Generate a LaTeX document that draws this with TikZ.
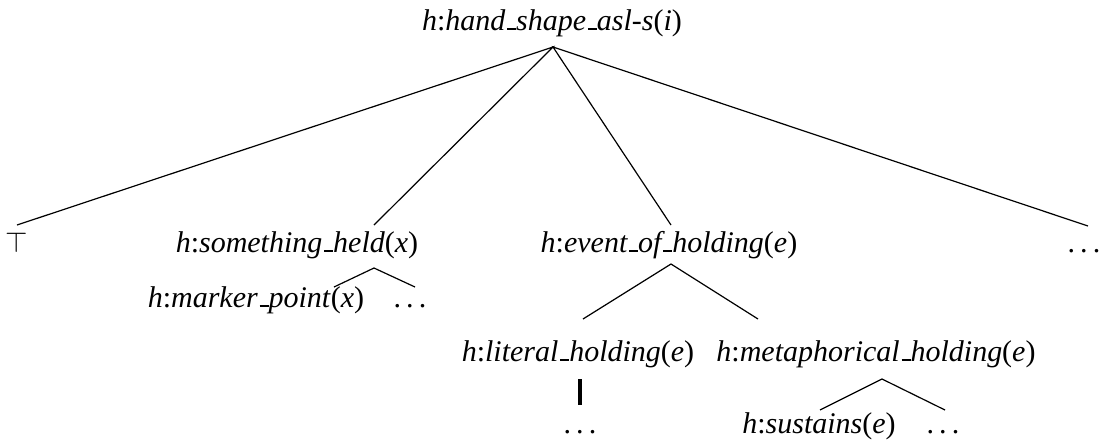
\documentclass[tikz,border=0pt]{standalone}
\usepackage{fontspec}
\setmainfont{Liberation Serif}
\newcommand{\usc}{\kern.06em\vbox{\hrule width .3em height 1.1pt}}
\newcommand{\dd}{.\kern.17em.\kern.17em.}
\newcommand{\lab}[2]{\textit{h}:\textit{#1}(\textit{#2})}
\begin{document}
\begin{tikzpicture}[x=0.5pt,y=-0.5pt,
  lbl/.style={anchor=base,inner sep=0pt,font=\fontsize{15}{17}\selectfont},
  edge/.style={line width=0.6pt}]
\useasboundingbox (0,0) rectangle (1099,441);
% nodes
\node[lbl] (root) at (552,30) {\lab{hand\usc shape\usc asl-s}{i}};
\node[lbl] (top) at (17,252) {$\top$};
\node[lbl] (sh) at (297,252) {\lab{something\usc held}{x}};
\node[lbl] (eh) at (669,252) {\lab{event\usc of\usc holding}{e}};
\node[lbl] (d1) at (1084,252) {\dd};
\node[lbl] (mp) at (256,307) {\lab{marker\usc point}{x}};
\node[lbl] (d2) at (410,307) {\dd};
\node[lbl] (lh) at (578,361) {\lab{literal\usc holding}{e}};
\node[lbl] (mh) at (876,361) {\lab{metaphorical\usc holding}{e}};
\node[lbl] (d3) at (580,433) {\dd};
\node[lbl] (su) at (819,433) {\lab{sustains}{e}};
\node[lbl] (d4) at (943,433) {\dd};
% connector points
\coordinate (r0) at (553,47);
\coordinate (top-in) at (17,225);
\coordinate (sh-in) at (374,225);
\coordinate (eh-in) at (671,225);
\coordinate (d1-in) at (1088,226);
\coordinate (sh0) at (374,268);
\coordinate (mp-in) at (334,287);
\coordinate (d2-in) at (415,287);
\coordinate (eh0) at (671,264);
\coordinate (lh-in) at (583,319);
\coordinate (mh-in) at (758,319);
\coordinate (lh0) at (580,379);
\coordinate (d3-in) at (580,405);
\coordinate (mh0) at (882,379);
\coordinate (su-in) at (820,410);
\coordinate (d4-in) at (945,410);
% connectors
\draw[edge] (top-in) -- (r0) -- (sh-in);
\draw[edge] (eh-in) -- (r0) -- (d1-in);
\draw[edge] (mp-in) -- (sh0) -- (d2-in);
\draw[edge] (lh-in) -- (eh0) -- (mh-in);
\draw[line width=1.6pt] (lh0) -- (d3-in);
\draw[edge] (su-in) -- (mh0) -- (d4-in);
\end{tikzpicture}
\end{document}
